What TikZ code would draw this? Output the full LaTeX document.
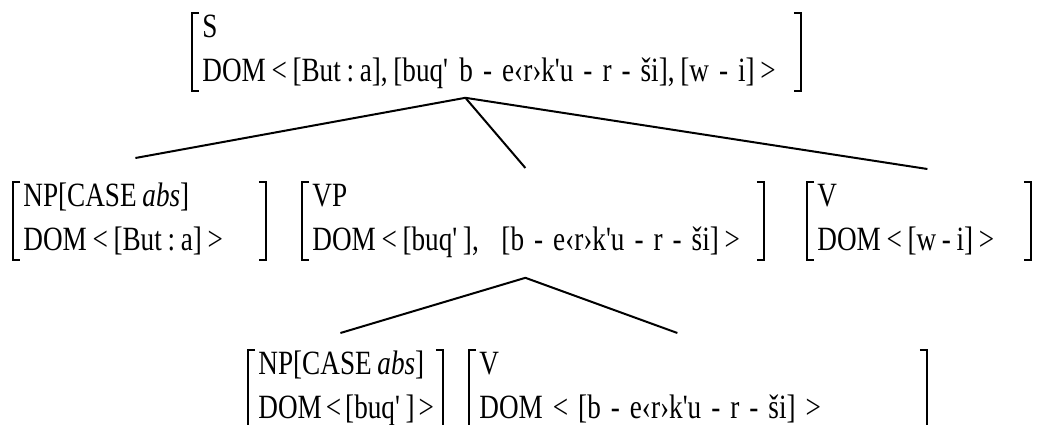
\documentclass[tikz,border=0pt]{standalone}
\usepackage{fontspec}
\newfontfamily\avmfont{Liberation Serif}[FakeStretch=0.8]

% hyphen between morphemes
\newcommand{\seghy}{\hspace{5pt}-\hspace{5pt}}

\tikzset{
  avm/.style={anchor=north west, inner xsep=5pt, inner ysep=0pt, text width=#1,
    text height=12pt, text depth=26.5pt, align=left,
    font=\avmfont\fontsize{17pt}{22pt}\selectfont},
  brkt/.style={line width=0.8pt},
  branch/.style={line width=1pt}
}

\begin{document}
\begin{tikzpicture}[x=0.5pt, y=-0.5pt]
    \useasboundingbox (0,0) rectangle (1040,424);

    % feature structures
    \node(s)[avm=294pt] at (192,13)
        {S\\DOM\,<\,[But\,:\,a],\,[buq' b\seghy e‹r›k'u\seghy r\seghy ši],\,[w\seghy i]\,>};

    \node(np)[avm=116pt] at (13,182) {NP[CASE\,\textit{abs}]\\DOM\,<\,[But\,:\,a]\,>};
    \node(vp)[avm=220.5pt] at (302,182) {VP\\DOM\,<\,[buq'\,],\, \,[b\seghy e‹r›k'u\seghy r\seghy ši]\,>};
    \node(v)[avm=101.5pt] at (807,182) {V\\DOM\,<\,[w\,-\,i]\,>};

    \node(npb)[avm=87pt] at (248,350) {NP[CASE\,\textit{abs}]\\DOM\kern2pt<\kern2pt[buq'\,]\kern2pt>};
    \node(vb)[avm=218.5pt] at (469,350)
        {V\\DOM\hspace{5pt}<\hspace{5pt}[b\seghy e‹r›k'u\seghy r\seghy ši]\hspace{5pt}>};

    % square brackets
    \foreach \n in {s,np,vp,v,npb,vb}
    {\draw[brkt]([xshift=3.5pt]\n.north west)-|(\n.south west)--++(3.5pt,0);
    \draw[brkt]([xshift=-3.5pt]\n.north east)-|(\n.south east)--++(-3.5pt,0);}

    % branches
    \draw[branch]([shift={(-2pt,12pt)}]np.north)--([shift={(-15.5pt,-3.5pt)}]s.south)
        --([shift={(4.25pt,6.5pt)}]v.north);
    \draw[branch]([shift={(-15.5pt,-3.5pt)}]s.south)--([shift={(-3.75pt,7pt)}]vp.north);

    \draw[branch]([shift={(-2.5pt,8.5pt)}]npb.north)--([shift={(-3.75pt,-9pt)}]vp.south)
        --([shift={(-10.25pt,8.5pt)}]vb.north);
\end{tikzpicture}
\end{document}
